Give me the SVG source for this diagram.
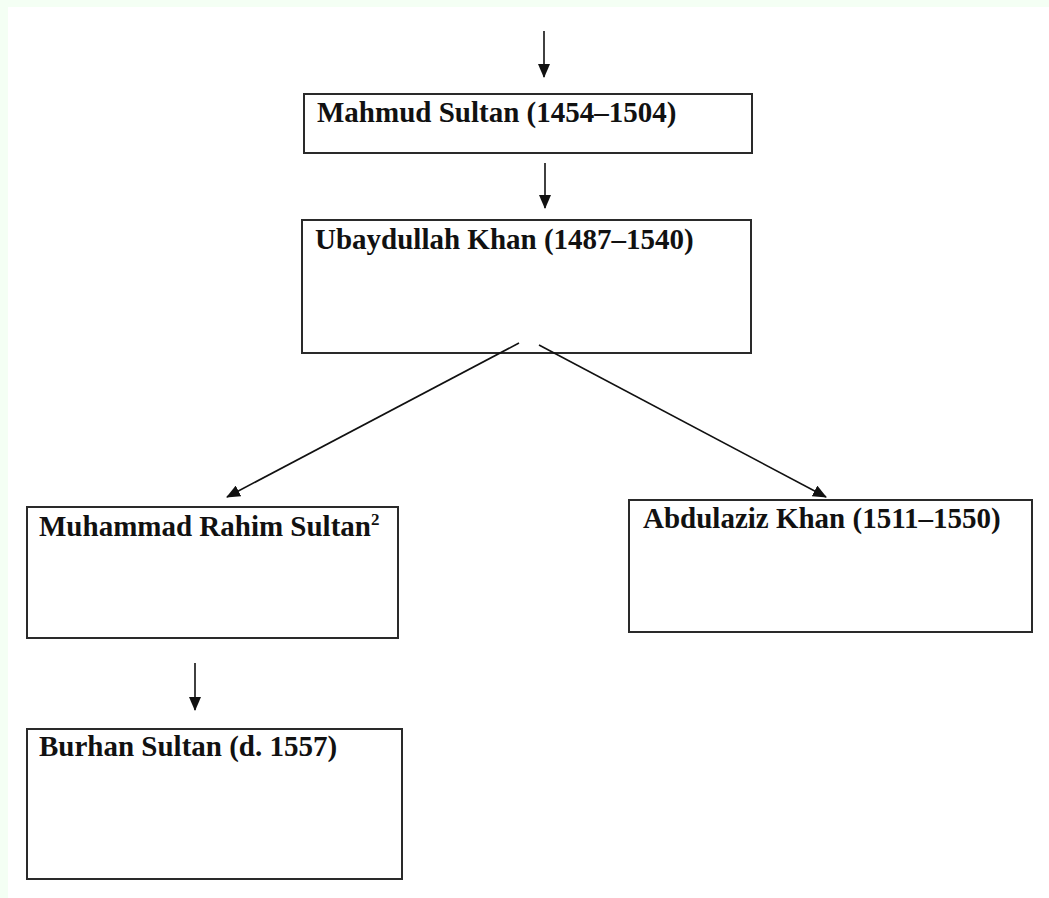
<svg xmlns="http://www.w3.org/2000/svg" width="1049" height="898" viewBox="0 0 1049 898">
  <style>
    .box { fill: #ffffff; stroke: #2a2a2a; stroke-width: 2; }
    .lbl { font-family: "Liberation Serif", "Times New Roman", serif; font-weight: bold; font-size: 29px; fill: #111111; }
    .sup { font-family: "Liberation Serif", "Times New Roman", serif; font-weight: bold; font-size: 17px; fill: #111111; }
    .conn { stroke: #111111; stroke-width: 1.6; fill: none; marker-end: url(#arrow); }
  </style>
  <defs>
    <marker id="arrow" markerUnits="userSpaceOnUse" markerWidth="14" markerHeight="12" viewBox="0 0 14 12" refX="13" refY="6" orient="auto">
      <path d="M0,0 L14,6 L0,12 Z" fill="#111111"/>
    </marker>
  </defs>
  <rect x="0" y="0" width="1049" height="898" fill="#ffffff"/>
  <rect x="0" y="0" width="1049" height="7" fill="#f4fff4"/>
  <rect x="0" y="0" width="8" height="898" fill="#f4fff4"/>

  <g id="mahmud">
    <rect class="box" x="304" y="94" width="448" height="59"/>
    <text class="lbl" x="317" y="122">Mahmud Sultan (1454–1504)</text>
  </g>
  <g id="ubaydullah">
    <rect class="box" x="302" y="220" width="449" height="133"/>
    <text class="lbl" x="315" y="249">Ubaydullah Khan (1487–1540)</text>
  </g>
  <g id="muhammad">
    <rect class="box" x="27" y="507" width="371" height="131"/>
    <text class="lbl" x="39" y="536">Muhammad Rahim Sultan<tspan class="sup" dy="-11">2</tspan></text>
  </g>
  <g id="abdulaziz">
    <rect class="box" x="629" y="500" width="403" height="132"/>
    <text class="lbl" x="643" y="528">Abdulaziz Khan (1511–1550)</text>
  </g>
  <g id="burhan">
    <rect class="box" x="27" y="729" width="375" height="150"/>
    <text class="lbl" x="39" y="756">Burhan Sultan (d. 1557)</text>
  </g>

  <g id="connectors">
    <line class="conn" x1="544" y1="31" x2="544" y2="77"/>
    <line class="conn" x1="545" y1="163" x2="545" y2="208"/>
    <line class="conn" x1="519" y1="343" x2="227" y2="497"/>
    <line class="conn" x1="539" y1="345" x2="826" y2="497"/>
    <line class="conn" x1="195" y1="663" x2="195" y2="710"/>
  </g>
</svg>
